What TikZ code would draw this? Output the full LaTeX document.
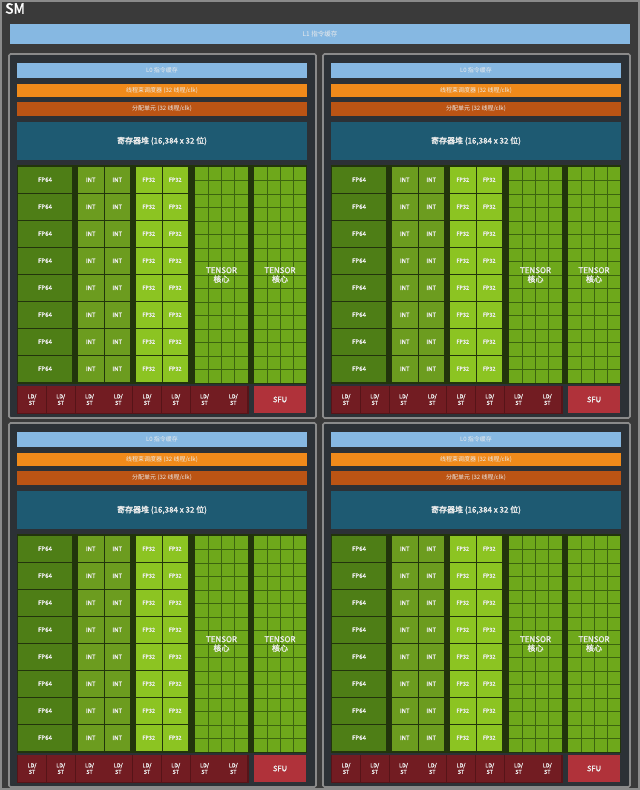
\documentclass[tikz,border=0pt]{standalone}
\usepackage{fontspec}
\usetikzlibrary{calc}
\newfontfamily\cjk{Noto Sans CJK SC}
\newfontfamily\cjkb{Noto Sans CJK SC}[FakeBold=2]
\definecolor{bgc}{HTML}{3A3A3A}
\definecolor{partbg}{HTML}{2C3136}
\definecolor{partln}{HTML}{8A8A8A}
\definecolor{lblue}{HTML}{86B8E2}
\definecolor{orng}{HTML}{F08A1A}
\definecolor{dorng}{HTML}{BB5414}
\definecolor{regc}{HTML}{1E5A72}
\definecolor{cgap}{HTML}{22340C}
\definecolor{fp64c}{HTML}{4E7E16}
\definecolor{intc}{HTML}{6C9C1F}
\definecolor{fp32c}{HTML}{8CC422}
\definecolor{tenc}{HTML}{6EA81B}
\definecolor{tenln}{HTML}{3C640F}
\definecolor{ldstc}{HTML}{721C22}
\definecolor{ldgap}{HTML}{561418}
\definecolor{sfuc}{HTML}{B0323A}
\definecolor{txt}{HTML}{ECECEC}
\tikzset{
  box/.style={rectangle, inner sep=0pt, outer sep=0pt, anchor=north west, text=txt, align=center},
  partbox/.style={box, fill=partbg, draw=partln, line width=1.6pt, rounded corners=1.5pt},
  barl/.style={box, fill=lblue, font=\cjk\fontsize{6}{6.5}\selectfont, minimum width=290pt},
  bar/.style={box, font=\cjk\fontsize{6}{6.5}\selectfont, minimum width=290pt},
  regbox/.style={box, fill=regc, font=\cjkb\fontsize{8}{9}\selectfont, minimum width=290pt, minimum height=38pt},
  fpcell/.style={box, fill=fp64c, font=\cjkb\fontsize{6}{7}\selectfont, minimum width=54pt, minimum height=25.5pt},
  intcell/.style={box, fill=intc, font=\cjkb\fontsize{6}{7}\selectfont, minimum width=25.5pt, minimum height=25.5pt},
  f32cell/.style={box, fill=fp32c, font=\cjkb\fontsize{5.5}{6}\selectfont, minimum width=25.5pt, minimum height=25.5pt},
  tencell/.style={box, fill=tenc, minimum width=53pt, minimum height=216pt},
  ldcell/.style={box, fill=ldstc, font=\cjkb\fontsize{5.5}{6.5}\selectfont, minimum width=28pt, minimum height=27pt},
  sfucell/.style={box, fill=sfuc, font=\cjkb\fontsize{7.5}{8}\selectfont, minimum width=52pt, minimum height=27pt},
  tenlabel/.style={text=txt, align=center, font=\cjkb\fontsize{8}{9}\selectfont},
}
\begin{document}
\begin{tikzpicture}[x=1pt,y=-1pt]
\useasboundingbox (0,0) rectangle (640,790);
\fill[bgc] (0,0) rectangle (640,790);
\draw[partln, line width=1.5pt] (1,1) rectangle (639,789);
\node[anchor=north west, inner sep=0pt, text=white, font=\cjkb\fontsize{14}{15}\selectfont] (smlabel) at (5,3) {SM};
\node[box, fill=lblue, minimum width=620pt, minimum height=20pt, font=\cjk\fontsize{6.5}{7}\selectfont] (l1) at (10,24) {L1 指令缓存};
\foreach \p/\dx/\dy in {a/0/0,b/314/0,c/0/369,d/314/369}{
\begin{scope}[shift={(\dx,\dy)}]
  \node[partbox, minimum width=307pt, minimum height=364pt] (\p-part) at (9,54) {};
  \node[barl, minimum height=15pt] (\p-l0) at (17,63) {L0 指令缓存};
  \node[bar, fill=orng, minimum height=13pt] (\p-warp) at (17,84) {线程束调度器 (32 线程/clk)};
  \node[bar, fill=dorng, minimum height=14pt] (\p-disp) at (17,102) {分配单元 (32 线程/clk)};
  \node[regbox] (\p-reg) at (17,122) {寄存器堆 (16,384 x 32 位)};
  \node[box, fill=cgap, minimum width=290pt, minimum height=219pt] (\p-comp) at (17,165) {};
  \foreach \r in {0,...,7}{
    \pgfmathsetmacro{\yy}{167+27*\r}
    \node[fpcell] (\p-fp-\r) at (18,\yy) {FP64};
    \node[intcell] (\p-ia-\r) at (78,\yy) {INT};
    \node[intcell] (\p-ib-\r) at (104.5,\yy) {INT};
    \node[f32cell] (\p-fa-\r) at (136,\yy) {FP32};
    \node[f32cell] (\p-fb-\r) at (162.5,\yy) {FP32};
  }
  \node[tencell] (\p-t1) at (195,167) {};
  \node[tencell, minimum width=52pt] (\p-t2) at (254,167) {};
  \foreach \t in {t1,t2}{
    \foreach \k in {1,2,3}{
      \draw[tenln, line width=0.6pt] ($(\p-\t.north west)!\k/4!(\p-\t.north east)$) -- ($(\p-\t.south west)!\k/4!(\p-\t.south east)$);
    }
    \foreach \k in {1,...,15}{
      \draw[tenln, line width=0.6pt] ($(\p-\t.north west)!\k/16!(\p-\t.south west)$) -- ($(\p-\t.north east)!\k/16!(\p-\t.south east)$);
    }
    \node[tenlabel] (\p-\t-lab) at (\p-\t.center) {TENSOR\\核心};
  }
  \node[box, fill=ldgap, minimum width=232pt, minimum height=28pt] (\p-ldband) at (17,385.5) {};
  \foreach \c in {0,...,7}{
    \pgfmathsetmacro{\xx}{18+28.75*\c}
    \node[ldcell] (\p-ld-\c) at (\xx,386) {LD/\\ST};
  }
  \node[sfucell] (\p-sfu) at (254,386) {SFU};
\end{scope}
}
\end{tikzpicture}
\end{document}
